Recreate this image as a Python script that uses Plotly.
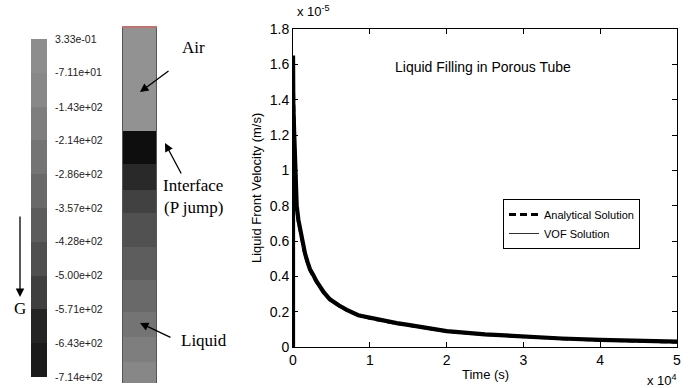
import plotly.graph_objects as go

# ---------------- data ----------------
# contour levels of the pressure colour bar (Pa), top to bottom
level_labels = ["3.33e-01", "-7.11e+01", "-1.43e+02", "-2.14e+02", "-2.86e+02",
                "-3.57e+02", "-4.28e+02", "-5.00e+02", "-5.71e+02", "-6.43e+02", "-7.14e+02"]
level_values = [0.333, -71.1, -143, -214, -286, -357, -428, -500, -571, -643, -714]
# grey of each band between consecutive levels, top band first
band_greys = ["#929292", "#888888", "#7e7e7e", "#747474", "#696969",
              "#5d5d5d", "#4f4f4f", "#414141", "#2f2f2f", "#060606"]

# tube: band edges along normalised height (bottom=0, top=1) and pressure in each band
tube_edges = [0.0, 0.059, 0.130, 0.200, 0.290, 0.383, 0.479, 0.544, 0.617, 0.710, 1.0]
tube_pressure = [-110, -180, -250, -320, -390, -460, -530, -600, -700, 0.0]

# liquid front velocity, time in units of 1e4 s, velocity in units of 1e-5 m/s
vof_time = [0, 0.0005, 0.004, 0.015, 0.026, 0.048, 0.07, 0.091, 0.12, 0.156, 0.19,
            0.221, 0.26, 0.309, 0.4, 0.48, 0.6, 0.7, 0.85, 1.0, 1.2, 1.35, 1.5, 1.7,
            2.0, 2.5, 3.0, 3.5, 4.0, 4.5, 5.0]
vof_velocity = [0, 1.65, 1.38, 1.22, 1.10, 0.80, 0.72, 0.67, 0.60, 0.53, 0.48,
                0.44, 0.41, 0.37, 0.31, 0.27, 0.235, 0.21, 0.18, 0.165, 0.145, 0.135,
                0.125, 0.11, 0.09, 0.072, 0.058, 0.048, 0.04, 0.034, 0.03]
ana_time = [0.002, 0.006, 0.015, 0.026, 0.048, 0.07, 0.091, 0.12, 0.156, 0.19,
            0.221, 0.26, 0.309, 0.4, 0.48, 0.6, 0.7, 0.85, 1.0, 1.2, 1.35, 1.5, 1.7,
            2.0, 2.5, 3.0, 3.5, 4.0, 4.5, 5.0]
ana_velocity = [1.62, 1.34, 1.20, 1.08, 0.80, 0.71, 0.66, 0.59, 0.52, 0.475,
                0.435, 0.40, 0.365, 0.305, 0.27, 0.232, 0.208, 0.18, 0.162, 0.143, 0.133,
                0.123, 0.108, 0.089, 0.071, 0.057, 0.047, 0.039, 0.033, 0.028]

W, H = 688, 388
def px(x):
    return x / W
def py(y):
    return 1 - y / H

# stepped grey colour scale built from the levels
zmin, zmax = min(level_values), max(level_values)
colorscale = []
for i, g in enumerate(band_greys):
    hi = (level_values[i] - zmin) / (zmax - zmin)
    lo = (level_values[i + 1] - zmin) / (zmax - zmin)
    colorscale.append((lo, g))
    colorscale.append((hi, g))
colorscale.sort(key=lambda c: c[0])

fig = go.Figure()

# colour bar as a heatmap
cb_edges = level_values[::-1]
cb_z = [[(cb_edges[i] + cb_edges[i + 1]) / 2] for i in range(len(cb_edges) - 1)]
fig.add_trace(go.Heatmap(z=cb_z, x=[0], y=cb_edges, colorscale=colorscale,
                         zmin=zmin, zmax=zmax, showscale=False, hoverinfo="skip",
                         xaxis="x2", yaxis="y2"))

# tube
fig.add_trace(go.Heatmap(z=[[p] for p in tube_pressure], x=[0], y=tube_edges,
                         colorscale=colorscale, zmin=zmin, zmax=zmax, showscale=False,
                         hoverinfo="skip", xaxis="x3", yaxis="y3"))

# velocity curves
fig.add_trace(go.Scatter(x=vof_time, y=vof_velocity, mode="lines",
                         line=dict(color="black", width=4.2), showlegend=False))
fig.add_trace(go.Scatter(x=ana_time, y=ana_velocity, mode="lines", name="Analytical Solution",
                         line=dict(color="black", width=3, dash="7px,4px")))
fig.add_trace(go.Scatter(x=[None], y=[None], mode="lines", name="VOF Solution",
                         line=dict(color="#333333", width=1)))

sans = "Arial, Liberation Sans, sans-serif"
serif = "Times New Roman, Liberation Serif, serif"

fig.update_layout(
    width=W, height=H, margin=dict(l=0, r=0, t=0, b=0, autoexpand=False),
    paper_bgcolor="white", plot_bgcolor="white",
    font=dict(family=sans, color="black"),
    xaxis=dict(domain=[px(293), px(677)], range=[0, 5], dtick=1, tick0=0, automargin=False,
               showline=True, mirror="ticks", linecolor="black", linewidth=1,
               ticks="inside", ticklen=5, tickcolor="black", showgrid=False, zeroline=False,
               tickfont=dict(size=14, family=sans)),
    yaxis=dict(domain=[py(347), py(29)], range=[0, 1.8], dtick=0.2, tick0=0, automargin=False,
               showline=True, mirror="ticks", linecolor="black", linewidth=1,
               ticks="inside", ticklen=5, tickcolor="black", showgrid=False, zeroline=False,
               tickfont=dict(size=14, family=sans)),
    xaxis2=dict(domain=[px(31), px(47)], range=[-0.5, 0.5], visible=False, automargin=False),
    yaxis2=dict(domain=[py(377), py(39)], range=[zmin, zmax], anchor="x2", side="right",
                tickvals=level_values, ticktext=level_labels, ticks="outside", ticklen=5,
                tickcolor="rgba(0,0,0,0)", showgrid=False, zeroline=False, showline=False,
                automargin=False, tickfont=dict(size=10.5, family=sans, color="#222222")),
    xaxis3=dict(domain=[px(123), px(156)], range=[-0.5, 0.5], anchor="y3", side="top",
                showline=True, linecolor="#c87070", linewidth=1.5, showticklabels=False,
                ticks="", showgrid=False, zeroline=False, automargin=False),
    yaxis3=dict(domain=[py(383), py(28)], range=[0, 1], anchor="x3",
                showline=True, mirror=True, linecolor="#555555", linewidth=1,
                showticklabels=False, ticks="", showgrid=False, zeroline=False, automargin=False),
    legend=dict(x=px(503), y=py(199), xanchor="left", yanchor="top",
                bordercolor="black", borderwidth=1, bgcolor="white",
                font=dict(size=11, family=sans), tracegroupgap=0, itemwidth=30),
    showlegend=True,
)

ann = [
    dict(text="Liquid Filling in Porous Tube", x=px(483), y=py(67), font=dict(size=14, family=sans)),
    dict(text="Time (s)", x=px(485), y=py(374), font=dict(size=13, family=sans)),
    dict(text="x 10<sup>-5</sup>", x=px(313), y=py(11), font=dict(size=13, family=sans)),
    dict(text="x 10<sup>4</sup>", x=px(662), y=py(380), font=dict(size=13, family=sans)),
    dict(text="Liquid Front Velocity (m/s)", x=px(256), y=py(188), textangle=-90,
         font=dict(size=13, family=sans)),
    dict(text="Air", x=px(193), y=py(47), font=dict(size=17, family=serif)),
    dict(text="Interface", x=px(193), y=py(185), font=dict(size=17, family=serif)),
    dict(text="(P jump)", x=px(193), y=py(207), font=dict(size=17, family=serif)),
    dict(text="Liquid", x=px(204), y=py(340), font=dict(size=17, family=serif)),
    dict(text="G", x=px(20), y=py(308), font=dict(size=17, family=serif)),
]
annotations = []
for a in ann:
    a.update(xref="paper", yref="paper", showarrow=False, xanchor="center", yanchor="middle")
    annotations.append(a)

arrows = [((140, 92), (170, 70)), ((165, 143), (182, 175)),
          ((140, 323), (172, 338)), ((20, 297), (20, 215))]
for head, tail in arrows:
    annotations.append(dict(text="", x=px(head[0]), y=py(head[1]), xref="paper", yref="paper",
                            showarrow=True, ax=tail[0] - head[0], ay=tail[1] - head[1],
                            arrowhead=2, arrowsize=1.3, arrowwidth=1.3, arrowcolor="black"))
fig.update_layout(annotations=annotations)

fig.write_html("out.html", config={"displayModeBar": False},
               post_script="document.body.style.margin='0px';document.body.style.overflow='hidden';")
